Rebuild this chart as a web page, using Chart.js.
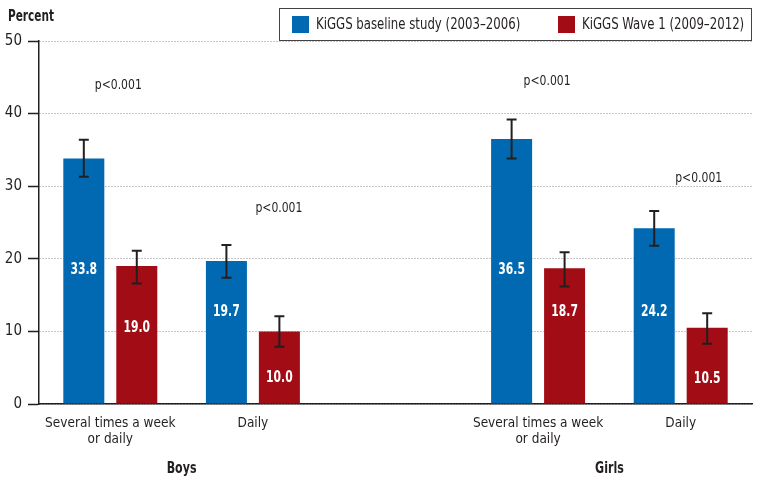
<!doctype html>
<html lang="en">
  <head>
    <meta charset="UTF-8" />
    <title>KiGGS</title>
    <script src="https://cdn.jsdelivr.net/npm/chart.js"></script>
    <style>
      body { margin: 0; background: #fff; }
      .chart-container { position: relative; width: 758px; height: 482px; }
    </style>
  </head>
  <body>
    <div class="chart-container">
      <canvas id="chart"></canvas>
    </div>

    <script>
      const categories = [['Several times a week', 'or daily'], 'Daily', '', ['Several times a week', 'or daily'], 'Daily']
      const groups = ['Boys', 'Girls']
      const seriesNames = ['KiGGS baseline study (2003–2006)', 'KiGGS Wave 1 (2009–2012)']
      const baseline = [33.8, 19.7, null, 36.5, 24.2]
      const baselineLow = [31.3, 17.4, null, 33.8, 21.8]
      const baselineHigh = [36.4, 21.9, null, 39.2, 26.6]
      const wave1 = [19.0, 10.0, null, 18.7, 10.5]
      const wave1Low = [16.6, 7.9, null, 16.2, 8.3]
      const wave1High = [21.1, 12.1, null, 20.9, 12.5]
      const pText = ['p<0.001', 'p<0.001', 'p<0.001', 'p<0.001']
      const pCategory = [0, 1, 3, 4]
      const yTicks = [0, 10, 20, 30, 40, 50]

      const FONT = "'DejaVu Sans Condensed', 'DejaVu Sans', sans-serif"
      const BLUE = '#0069b1'
      const RED = '#a10c15'
      const INK = '#231f20'

      // where the annotations sit (value units / px offsets from category centre)
      const pLevel = [43.9, 27.0, 44.4, 31.1]
      const pShift = [8, 26, 9, 18]
      const labelLevel = [
        [18.5, 12.7, null, 18.5, 12.7],
        [10.5, 3.6, null, 12.7, 3.4],
      ]
      const lows = [baselineLow, wave1Low]
      const highs = [baselineHigh, wave1High]

      // the original uses a condensed face, so squeeze text horizontally
      function text(ctx, str, x, y, font, align, sx) {
        ctx.save()
        ctx.font = font
        ctx.textAlign = align
        ctx.textBaseline = 'middle'
        ctx.translate(x, y)
        ctx.scale(sx, 1)
        ctx.fillText(str, 0, 0)
        ctx.restore()
      }

      const extras = {
        id: 'extras',
        afterDatasetsDraw(chart) {
          const ctx = chart.ctx
          const x = chart.scales.x
          const y = chart.scales.y
          ctx.save()
          // error bars
          ctx.strokeStyle = INK
          ctx.lineWidth = 2
          chart.data.datasets.forEach((ds, i) => {
            chart.getDatasetMeta(i).data.forEach((bar, j) => {
              if (ds.data[j] == null) return
              const y1 = y.getPixelForValue(lows[i][j])
              const y2 = y.getPixelForValue(highs[i][j])
              ctx.beginPath()
              ctx.moveTo(bar.x, y1)
              ctx.lineTo(bar.x, y2)
              ctx.moveTo(bar.x - 5, y1)
              ctx.lineTo(bar.x + 5, y1)
              ctx.moveTo(bar.x - 5, y2)
              ctx.lineTo(bar.x + 5, y2)
              ctx.stroke()
              ctx.fillStyle = '#fff'
              text(ctx, ds.data[j].toFixed(1), bar.x, y.getPixelForValue(labelLevel[i][j]), 'bold 15px ' + FONT, 'center', 0.8)
            })
          })
          ctx.fillStyle = INK
          pText.forEach((t, k) => {
            text(ctx, t, x.getPixelForValue(pCategory[k]) + pShift[k], y.getPixelForValue(pLevel[k]), '14px ' + FONT, 'center', 0.86)
          })
          groups.forEach((g, k) => {
            const cx = (x.getPixelForValue(k * 3) + x.getPixelForValue(k * 3 + 1)) / 2
            text(ctx, g, cx, 469, 'bold 15px ' + FONT, 'center', 0.82)
          })
          text(ctx, 'Percent', 8, 17, 'bold 15px ' + FONT, 'left', 0.78)
          // legend
          ctx.fillStyle = '#fff'
          ctx.fillRect(279, 8, 473, 33)
          ctx.strokeStyle = '#444'
          ctx.lineWidth = 1
          ctx.strokeRect(279.5, 8.5, 472, 32)
          ctx.fillStyle = BLUE
          ctx.fillRect(292, 16, 17, 17)
          ctx.fillStyle = RED
          ctx.fillRect(558, 16, 17, 17)
          ctx.fillStyle = INK
          text(ctx, seriesNames[0], 316, 25, '15px ' + FONT, 'left', 0.87)
          text(ctx, seriesNames[1], 582, 25, '15px ' + FONT, 'left', 0.87)
          ctx.restore()
        },
      }

      new Chart(document.getElementById('chart'), {
        type: 'bar',
        data: {
          labels: categories,
          datasets: [
            { label: seriesNames[0], data: baseline, backgroundColor: BLUE },
            { label: seriesNames[1], data: wave1, backgroundColor: RED },
          ],
        },
        options: {
          responsive: true,
          maintainAspectRatio: false,
          animation: false,
          categoryPercentage: 0.743,
          barPercentage: 0.774,
          layout: { padding: { top: 41, right: 6, left: 0, bottom: 0 } },
          plugins: { legend: { display: false }, tooltip: { enabled: false } },
          scales: {
            x: {
              grid: { display: false },
              border: { display: true, color: INK, width: 1.5 },
              ticks: { color: INK, font: { family: FONT, size: 13.5, lineHeight: 1.2 }, padding: 3, maxRotation: 0, autoSkip: false },
              afterFit: (s) => { s.height = 78 },
            },
            y: {
              min: 0,
              max: 50,
              afterBuildTicks: (s) => { s.ticks = yTicks.map((v) => ({ value: v })) },
              grid: {
                color: '#8c8c8c',
                tickLength: 11,
                tickColor: INK,
                tickBorderDash: [],
                tickWidth: 1.5,
              },
              border: { display: true, color: INK, width: 1.5, dash: [1, 2] },
              ticks: { color: INK, font: { family: FONT, size: 15 }, padding: 6 },
              afterFit: (s) => { s.width = 39 },
            },
          },
        },
        plugins: [extras],
      })
    </script>
  </body>
</html>
